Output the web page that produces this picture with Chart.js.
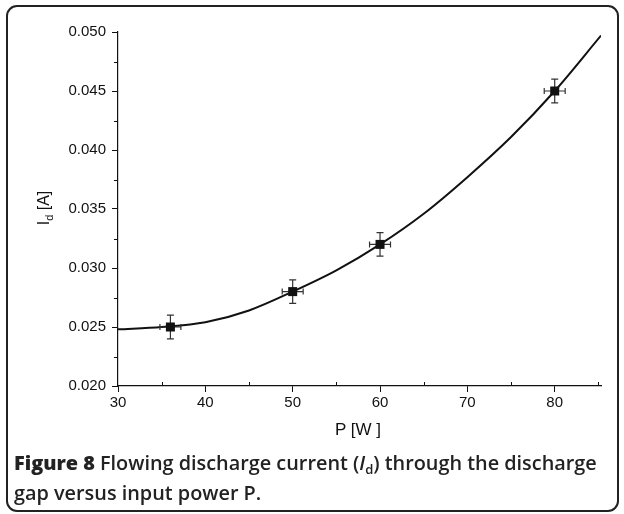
<!DOCTYPE html>
<html>
<head>
<meta charset="utf-8">
<script src="https://cdn.jsdelivr.net/npm/chart.js@4.4.1/dist/chart.umd.min.js"></script>
<style>
    html, body { margin: 0; padding: 0; background: #fff; }
    body { width: 624px; height: 514px; position: relative; overflow: hidden; }
    #frame {
        position: absolute; left: 6px; top: 5px; width: 613px; height: 507px; box-sizing: border-box;
        border: 2px solid #222; border-radius: 11px;
    }
    #chartBox { position: absolute; left: 0; top: 0; width: 624px; height: 514px; }
    .axis-title { position: absolute; font-family: "Liberation Sans", Arial, sans-serif; color: #111; white-space: nowrap; }
    #yTitle { font-size: 16px; left: 45px; top: 208px; transform: translate(-50%, -50%) rotate(-90deg); }
    #yTitle sub { font-size: 11px; vertical-align: -4px; }
    #xTitle { font-size: 17px; left: 358px; top: 430px; transform: translate(-50%, -50%); }
    #caption {
        position: absolute; left: 14px; top: 451px; white-space: nowrap;
        font-family: "Open Sans", "Noto Sans", sans-serif; font-size: 20px; font-weight: 600;
        line-height: 24px; color: #222;
    }
    #caption b { font-weight: 800; }
    #caption sub { font-size: 13px; vertical-align: -4px; }
</style>
</head>
<body>
<div id="chartBox"><canvas id="dischargeChart"></canvas></div>
<div id="frame"></div>
<div class="axis-title" id="yTitle">I<sub>d</sub> [A]</div>
<div class="axis-title" id="xTitle">P [W ]</div>
<div id="caption"><span id="capLine1"><b>Figure 8</b> Flowing discharge current (<i>I</i><sub>d</sub>) through the discharge</span><br>gap versus input power P.</div>

<script>
// measured points with error bars
const powerW = [36, 50, 60, 80];
const currentA = [0.025, 0.028, 0.032, 0.045];
const powerErr = [1.2, 1.2, 1.2, 1.2];
const currentErr = [0.001, 0.001, 0.001, 0.001];

// fitted curve
const fitPower = [30, 35, 40, 45, 50, 55, 60, 65, 70, 75, 80, 85.3];
const fitCurrent = [0.0248, 0.0250, 0.0254, 0.0264, 0.0280, 0.0298, 0.0320, 0.0346, 0.0377, 0.0411, 0.0450, 0.0497];

// axis ticks
const xTickValues = [30, 40, 50, 60, 70, 80];
const xMinorValues = [35, 45, 55, 65, 75, 85];
const yTickLabels = ['0.020', '0.025', '0.030', '0.035', '0.040', '0.045', '0.050'];
const yMinorValues = [0.0225, 0.0275, 0.0325, 0.0375, 0.0425, 0.0475];

const tickFont = { family: '"Liberation Sans", Arial, sans-serif', size: 15 };

// stretch the caption so its first line ends under the end of the x axis
const capLine1 = document.getElementById('capLine1');
const caption = document.getElementById('caption');
const capWidth = capLine1.getBoundingClientRect().width;
caption.style.fontSize = (20 * 583 / capWidth).toFixed(2) + 'px';

const errorBarsPlugin = {
    id: 'errorBars',
    afterDatasetsDraw(chart) {
        const ctx = chart.ctx;
        const xs = chart.scales.x, ys = chart.scales.y;
        ctx.save();
        ctx.strokeStyle = '#333';
        ctx.lineWidth = 1.2;
        powerW.forEach((p, i) => {
            const cx = xs.getPixelForValue(p), cy = ys.getPixelForValue(currentA[i]);
            const top = ys.getPixelForValue(currentA[i] + currentErr[i]);
            const bot = ys.getPixelForValue(currentA[i] - currentErr[i]);
            const lft = xs.getPixelForValue(p - powerErr[i]);
            const rgt = xs.getPixelForValue(p + powerErr[i]);
            ctx.beginPath();
            ctx.moveTo(cx, top); ctx.lineTo(cx, bot);
            ctx.moveTo(cx - 3.5, top); ctx.lineTo(cx + 3.5, top);
            ctx.moveTo(cx - 3.5, bot); ctx.lineTo(cx + 3.5, bot);
            ctx.moveTo(lft, cy); ctx.lineTo(rgt, cy);
            ctx.moveTo(lft, cy - 3); ctx.lineTo(lft, cy + 3);
            ctx.moveTo(rgt, cy - 3); ctx.lineTo(rgt, cy + 3);
            ctx.stroke();
            ctx.fillStyle = '#111';
            ctx.fillRect(cx - 4.5, cy - 4.5, 9, 9);
        });

        // minor ticks
        ctx.strokeStyle = '#111';
        ctx.lineWidth = 1;
        ctx.beginPath();
        xMinorValues.forEach(v => {
            const px = Math.round(xs.getPixelForValue(v)) + 0.5;
            ctx.moveTo(px, xs.top); ctx.lineTo(px, xs.top - 4);
        });
        yMinorValues.forEach(v => {
            const py = Math.round(ys.getPixelForValue(v)) + 0.5;
            ctx.moveTo(ys.right, py); ctx.lineTo(ys.right - 4, py);
        });
        ctx.stroke();
        ctx.restore();
    }
};

const ctx = document.getElementById('dischargeChart').getContext('2d');

new Chart(ctx, {
    type: 'scatter',
    data: {
        datasets: [
            {
                label: 'fit',
                data: fitPower.map((p, i) => ({ x: p, y: fitCurrent[i] })),
                showLine: true,
                borderColor: '#111',
                borderWidth: 2,
                pointRadius: 0,
                cubicInterpolationMode: 'monotone',
                fill: false
            },
            {
                label: 'measured',
                data: powerW.map((p, i) => ({ x: p, y: currentA[i] })),
                pointRadius: 0,
                showLine: false
            }
        ]
    },
    options: {
        responsive: true,
        maintainAspectRatio: false,
        animation: false,
        layout: { padding: { top: 32, right: 23, left: 0, bottom: 0 } },
        plugins: {
            legend: { display: false },
            tooltip: { enabled: false }
        },
        scales: {
            x: {
                type: 'linear',
                min: 30,
                max: 85.3,
                afterFit: s => { s.height = 128; },
                afterBuildTicks: s => { s.ticks = xTickValues.map(v => ({ value: v })); },
                ticks: { font: tickFont, color: '#111', padding: 2, maxRotation: 0 },
                grid: { drawOnChartArea: false, tickLength: 6, color: '#111', tickWidth: 1 },
                border: { color: '#111', width: 1.2 }
            },
            y: {
                type: 'linear',
                min: 0.020,
                max: 0.050,
                afterFit: s => { s.width = 118; },
                afterBuildTicks: s => { s.ticks = yTickLabels.map(v => ({ value: parseFloat(v) })); },
                ticks: {
                    font: tickFont, color: '#111', padding: 6,
                    callback: (v) => yTickLabels.find(l => Math.abs(parseFloat(l) - v) < 1e-9) || ''
                },
                grid: { drawOnChartArea: false, tickLength: 6, color: '#111', tickWidth: 1 },
                border: { color: '#111', width: 1.2 }
            }
        }
    },
    plugins: [errorBarsPlugin]
});
</script>
</body>
</html>
